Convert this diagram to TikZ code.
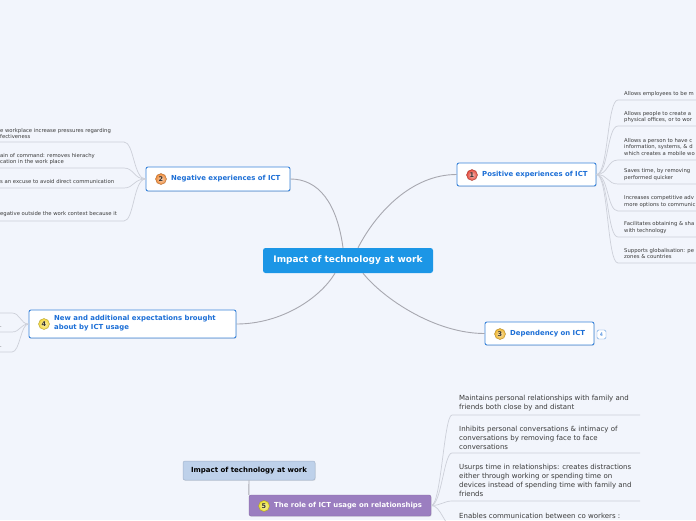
\documentclass[tikz,border=0pt]{standalone}
\usepackage{fontspec}
\setmainfont{DejaVu Sans}
\usetikzlibrary{shadows}
\definecolor{bg}{HTML}{F2F5FC}
\definecolor{ctrblue}{HTML}{1C96E6}
\definecolor{boxblue}{HTML}{3A84DA}
\definecolor{txtblue}{HTML}{1B6ED6}
\definecolor{conn}{HTML}{A8A8B0}
\definecolor{leafline}{HTML}{CDD0D9}
\definecolor{leaftxt}{HTML}{3A3A3A}
\definecolor{lightbox}{HTML}{BED1EA}
\definecolor{lightborder}{HTML}{A3B4CC}
\definecolor{purp}{HTML}{9B7EC0}
\tikzset{
  mainconn/.style={draw=conn, line width=0.9pt},
  leafconn/.style={draw=leafline, line width=0.7pt},
  topicbox/.style={draw=boxblue, line width=0.9pt, fill=white, rounded corners=2pt,
    drop shadow={opacity=0.18, shadow xshift=0.6pt, shadow yshift=-0.9pt}, inner sep=0pt},
  topictxt/.style={font=\fontsize{6.9}{9}\selectfont\bfseries, text=txtblue, inner sep=0pt, anchor=west, align=left},
  badge/.style={circle, minimum size=11pt, inner sep=0pt, draw=#1!70!black, line width=0.3pt,
    inner color=#1!35!white, outer color=#1, font=\fontsize{6.5}{6.5}\selectfont\bfseries, text=black!80},
  smalltxt/.style={font=\fontsize{5.3}{6.8}\selectfont, text=leaftxt, inner sep=0pt, anchor=west, align=left},
  bigtxt/.style={font=\fontsize{7}{9}\selectfont, text=leaftxt, inner sep=0pt, anchor=west, align=left},
}
\definecolor{bred}{HTML}{E2483A}
\definecolor{borange}{HTML}{EE8A38}
\definecolor{bgold}{HTML}{EEB52E}
\definecolor{byellow}{HTML}{F2D63A}
\definecolor{byellowb}{HTML}{EADF2E}
\begin{document}
\begin{tikzpicture}[x=1pt,y=-1pt]
\useasboundingbox (0,0) rectangle (696,520);
\clip (0,0) rectangle (696,520);
\fill[bg] (0,0) rectangle (696,520);

% central topic
\node[fill=ctrblue, rounded corners=2.5pt, minimum width=170pt, minimum height=25pt, inner sep=0pt,
  text=white, font=\fontsize{9}{11}\selectfont\bfseries] (ctr) at (348,260.5) {Impact of technology at work};

% main topics
\node[topicbox, minimum width=139pt, minimum height=23pt] (n1) at (526.5,174.5) {};
\node[badge=bred] (b1) at (472,175) {1};
\node[topictxt] (t1) at (482,175) {Positive experiences of ICT};

\node[topicbox, minimum width=144pt, minimum height=24pt] (n2) at (218,179) {};
\node[badge=borange] (b2) at (161,179) {2};
\node[topictxt] (t2) at (171,179) {Negative experiences of ICT};

\node[topicbox, minimum width=109pt, minimum height=23pt] (n3) at (539.5,333.5) {};
\node[badge=bgold] (b3) at (500,334) {3};
\node[topictxt] (t3) at (510,334) {Dependency on ICT};
\node[draw=boxblue!80, fill=white, rounded corners=1.5pt, minimum width=9pt, minimum height=9pt, inner sep=0pt,
  font=\fontsize{5}{5}\selectfont, text=txtblue] (c3) at (601.5,334.5) {4};

\node[topicbox, minimum width=207pt, minimum height=28pt] (n4) at (132.5,324) {};
\node[badge=byellow] (b4) at (44,324) {4};
\node[topictxt] (t4) at (54,323.5) {New and additional expectations brought\\about by ICT usage};

% connectors from central topic
\draw[mainconn] (n2.east) .. controls +(28,0) and +(-6,-45) .. ([xshift=-5pt]ctr.north);
\draw[mainconn] ([xshift=10pt]ctr.north) .. controls +(18,-35) and +(-45,0) .. (n1.west);
\draw[mainconn] ([xshift=-13pt]ctr.south) .. controls +(-15,25) and +(45,0) .. (n4.east);
\draw[mainconn] ([xshift=15pt]ctr.south) .. controls +(20,25) and +(-50,0) .. (n3.west);

% leaves of positive experiences
\node[smalltxt] (p1) at (624,94) {Allows employees to be m};
\node[smalltxt] (p2) at (624,117) {Allows people to create a\\physical offices, or to wor};
\node[smalltxt] (p3) at (624,147) {Allows a person to have c\\information, systems, \& d\\which creates a mobile wo};
\node[smalltxt] (p4) at (624,174.5) {Saves time, by removing\\performed quicker};
\node[smalltxt] (p5) at (624,201.5) {Increases competitive adv\\more options to communic};
\node[smalltxt] (p6) at (624,227.5) {Facilitates obtaining \& sha\\with technology};
\node[smalltxt] (p7) at (624,253.5) {Supports globalisation: pe\\zones \& countries};
\foreach \yy in {100,126,160,184,211,237,263}
  \draw[leafconn] (n1.east) .. controls +(12,0) and (607,\yy) .. (618,\yy) -- (696,\yy);

% leaves of negative experiences
\node[smalltxt] (q1) at (0,133.5) {e workplace increase pressures regarding\\fectiveness};
\node[smalltxt] (q2) at (0,159) {ain of command: removes hierachy\\cation in the work place};
\node[smalltxt] (q3) at (0,182) {s an excuse to avoid direct communication};
\node[smalltxt] (q4) at (0,214) {egative outside the work context because it};
\foreach \yy in {142,168,188,221}
  \draw[leafconn] (n2.west) .. controls +(-12,0) and (134,\yy) .. (124,\yy) -- (0,\yy);

% leaves of new expectations
\node[smalltxt] (r1) at (0,327) {.};
\node[smalltxt] (r2) at (0,347) {.};
\foreach \yy in {313,332,352}
  \draw[leafconn] (n4.west) .. controls +(-8,0) and (20,\yy) .. (12,\yy) -- (0,\yy);

% second diagram at the bottom
\node[draw=lightborder, line width=0.5pt, fill=lightbox, rounded corners=2pt, minimum width=132pt, minimum height=19pt,
  inner sep=0pt, font=\fontsize{7}{8}\selectfont\bfseries, text=black,
  drop shadow={opacity=0.18, shadow xshift=0.6pt, shadow yshift=-0.9pt}] (lb) at (249,470.5) {Impact of technology at work};
\node[fill=purp, draw=purp!85!black, line width=0.4pt, rounded corners=2pt, minimum width=182pt, minimum height=21pt, inner sep=0pt,
  drop shadow={opacity=0.18, shadow xshift=0.6pt, shadow yshift=-0.9pt}] (pb) at (340,505.5) {};
\node[badge=byellowb] (b5) at (264,506) {5};
\node[font=\fontsize{6.9}{8}\selectfont\bfseries, text=white, inner sep=0pt, anchor=west] (t5) at (274,506) {The role of ICT usage on relationships};
\draw[mainconn] (lb.south) -- (pb.north west);

\node[bigtxt] (s1) at (459,403.5) {Maintains personal relationships with family and\\friends both close by and distant};
\node[bigtxt] (s2) at (459,438) {Inhibits personal conversations \& intimacy of\\conversations by removing face to face\\conversations};
\node[bigtxt] (s3) at (459,480) {Usurps time in relationships: creates distractions\\either through working or spending time on\\devices instead of spending time with family and\\friends};
\node[bigtxt] (s4) at (459,516) {Enables communication between co workers :};
\foreach \yy in {415,453,501,526}
  \draw[leafconn] (pb.east) .. controls +(10,0) and (444,\yy) .. (452,\yy) -- (640,\yy);
\end{tikzpicture}
\end{document}
